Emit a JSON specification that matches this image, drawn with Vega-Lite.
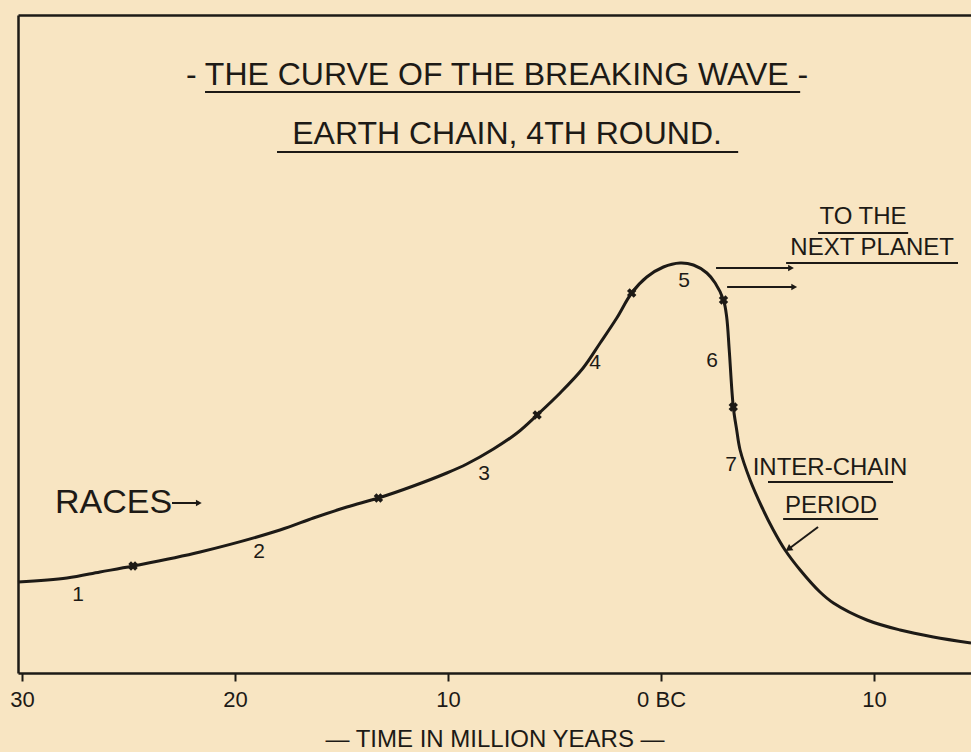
{
  "$schema": "https://vega.github.io/schema/vega-lite/v6.json",
  "width": 953,
  "height": 658,
  "autosize": {"type": "none"},
  "padding": {"left": 18, "top": 15, "right": 0, "bottom": 79},
  "background": "#f8e5c2",
  "config": {
    "view": {"stroke": null},
    "font": "Liberation Sans",
    "axis": {"grid": false, "domainColor": "#1d1a16", "domainWidth": 2.5, "tickColor": "#1d1a16", "labelColor": "#1d1a16", "titleColor": "#1d1a16"}
  },
  "datasets": {
    "curve": [
      {"x": -30.19, "y": 91}, {"x": -27.89, "y": 95}, {"x": -26.34, "y": 101}, {"x": -24.79, "y": 107},
      {"x": -21.64, "y": 121}, {"x": -17.89, "y": 143}, {"x": -16.32, "y": 155}, {"x": -14.75, "y": 166},
      {"x": -13.27, "y": 175}, {"x": -11.63, "y": 187}, {"x": -10.06, "y": 200}, {"x": -9.12, "y": 209},
      {"x": -7.87, "y": 224}, {"x": -6.76, "y": 240}, {"x": -5.82, "y": 258}, {"x": -4.74, "y": 280},
      {"x": -3.66, "y": 305}, {"x": -2.86, "y": 330}, {"x": -2.08, "y": 355}, {"x": -1.38, "y": 380},
      {"x": -0.67, "y": 396}, {"x": 0.11, "y": 406}, {"x": 0.89, "y": 410}, {"x": 1.52, "y": 408},
      {"x": 2.15, "y": 400}, {"x": 2.54, "y": 390}, {"x": 2.93, "y": 373}, {"x": 3.08, "y": 356},
      {"x": 3.2, "y": 323}, {"x": 3.39, "y": 266}, {"x": 3.55, "y": 243}, {"x": 3.71, "y": 223},
      {"x": 4.18, "y": 193}, {"x": 4.73, "y": 166}, {"x": 5.27, "y": 143}, {"x": 5.82, "y": 123},
      {"x": 6.53, "y": 103}, {"x": 7.46, "y": 81}, {"x": 8.09, "y": 70}, {"x": 9.66, "y": 53},
      {"x": 11.22, "y": 43}, {"x": 12.78, "y": 36}, {"x": 14.55, "y": 30}
    ],
    "markers": [
      {"x": -24.79, "y": 107}, {"x": -13.27, "y": 175}, {"x": -5.82, "y": 258},
      {"x": -1.38, "y": 380}, {"x": 2.93, "y": 373}, {"x": 3.39, "y": 266}
    ],
    "races": [
      {"x": -27.37, "y": 78, "label": "1"}, {"x": -18.87, "y": 121, "label": "2"},
      {"x": -8.31, "y": 199, "label": "3"}, {"x": -3.1, "y": 310, "label": "4"},
      {"x": 1.08, "y": 392, "label": "5"}, {"x": 2.39, "y": 312, "label": "6"},
      {"x": 3.29, "y": 208, "label": "7"}
    ],
    "titles": [
      {"x": -7.7, "y": 598, "label": "- THE CURVE OF THE BREAKING WAVE -"},
      {"x": -7.23, "y": 539, "label": "EARTH CHAIN,  4TH ROUND."}
    ],
    "notes": [
      {"x": 9.48, "y": 456, "label": "TO THE"},
      {"x": 9.91, "y": 425, "label": "NEXT PLANET"},
      {"x": 7.93, "y": 205, "label": "INTER-CHAIN"},
      {"x": 7.98, "y": 167, "label": "PERIOD"}
    ],
    "racesLabel": [
      {"x": -28.45, "y": 170, "label": "RACES"}
    ],
    "underlines": [
      {"x": -21.41, "x2": 6.53, "y": 581},
      {"x": -18.03, "x2": 3.62, "y": 521},
      {"x": 7.37, "x2": 11.6, "y": 440},
      {"x": 5.87, "x2": 13.94, "y": 410},
      {"x": 5.02, "x2": 10.89, "y": 191},
      {"x": 5.73, "x2": 10.19, "y": 154}
    ],
    "shafts": [
      {"x": 2.58, "x2": 6.0, "y": 405, "y2": 405},
      {"x": 3.1, "x2": 6.15, "y": 386, "y2": 386},
      {"x": 7.37, "x2": 6.05, "y": 146, "y2": 125},
      {"x": -22.96, "x2": -21.8, "y": 170, "y2": 170}
    ],
    "headsRight": [
      {"x": 6.1, "y": 405}, {"x": 6.25, "y": 386}, {"x": -21.7, "y": 170}
    ],
    "headsDiag": [
      {"x": 5.98, "y": 124}
    ]
  },
  "resolve": {"axis": {"x": "independent", "y": "independent"}},
  "layer": [
    {
      "data": {"name": "curve"},
      "mark": {"type": "line", "interpolate": "catmull-rom", "color": "#1d1a16", "strokeWidth": 3},
      "encoding": {
        "x": {
          "field": "x", "type": "quantitative",
          "scale": {"domain": [-30.19, 14.55], "nice": false, "zero": false},
          "axis": {
            "orient": "bottom", "values": [-30, -20, -10, 0, 10],
            "labelExpr": "datum.value == 0 ? '0 BC' : format(abs(datum.value), 'd')",
            "labelFontSize": 22, "labelPadding": 8, "labelFlush": false, "labelFont": "Liberation Sans",
            "tickSize": 8, "tickWidth": 2,
            "title": "— TIME IN MILLION YEARS —", "titleFontSize": 24, "titleFontWeight": "normal",
            "titleFont": "Liberation Sans", "titlePadding": 17
          }
        },
        "y": {
          "field": "y", "type": "quantitative",
          "scale": {"domain": [0, 658], "nice": false, "zero": false},
          "axis": {"orient": "left", "ticks": false, "labels": false, "title": null, "domain": true}
        }
      }
    },
    {
      "data": {"name": "markers"},
      "mark": {"type": "point", "shape": "cross", "angle": 45, "size": 90, "filled": true, "color": "#1d1a16", "opacity": 1},
      "encoding": {
        "x": {"field": "x", "type": "quantitative", "axis": {"orient": "top", "labels": false, "ticks": false, "title": null, "domain": true}},
        "y": {"field": "y", "type": "quantitative", "axis": null}
      }
    },
    {
      "data": {"name": "races"},
      "mark": {"type": "text", "fontSize": 21, "color": "#1d1a16", "align": "center", "baseline": "middle"},
      "encoding": {
        "x": {"field": "x", "type": "quantitative", "axis": null},
        "y": {"field": "y", "type": "quantitative", "axis": null},
        "text": {"field": "label"}
      }
    },
    {
      "data": {"name": "titles"},
      "mark": {"type": "text", "fontSize": 32, "color": "#1d1a16", "align": "center", "baseline": "middle"},
      "encoding": {
        "x": {"field": "x", "type": "quantitative", "axis": null},
        "y": {"field": "y", "type": "quantitative", "axis": null},
        "text": {"field": "label"}
      }
    },
    {
      "data": {"name": "notes"},
      "mark": {"type": "text", "fontSize": 24, "color": "#1d1a16", "align": "center", "baseline": "middle"},
      "encoding": {
        "x": {"field": "x", "type": "quantitative", "axis": null},
        "y": {"field": "y", "type": "quantitative", "axis": null},
        "text": {"field": "label"}
      }
    },
    {
      "data": {"name": "racesLabel"},
      "mark": {"type": "text", "fontSize": 34, "color": "#1d1a16", "align": "left", "baseline": "middle"},
      "encoding": {
        "x": {"field": "x", "type": "quantitative", "axis": null},
        "y": {"field": "y", "type": "quantitative", "axis": null},
        "text": {"field": "label"}
      }
    },
    {
      "data": {"name": "underlines"},
      "mark": {"type": "rule", "color": "#1d1a16", "strokeWidth": 2.2},
      "encoding": {
        "x": {"field": "x", "type": "quantitative", "axis": null},
        "x2": {"field": "x2"},
        "y": {"field": "y", "type": "quantitative", "axis": null}
      }
    },
    {
      "data": {"name": "shafts"},
      "mark": {"type": "rule", "color": "#1d1a16", "strokeWidth": 2},
      "encoding": {
        "x": {"field": "x", "type": "quantitative", "axis": null},
        "x2": {"field": "x2"},
        "y": {"field": "y", "type": "quantitative", "axis": null},
        "y2": {"field": "y2"}
      }
    },
    {
      "data": {"name": "headsRight"},
      "mark": {"type": "point", "shape": "triangle-right", "size": 45, "filled": true, "color": "#1d1a16", "opacity": 1},
      "encoding": {
        "x": {"field": "x", "type": "quantitative", "axis": null},
        "y": {"field": "y", "type": "quantitative", "axis": null}
      }
    },
    {
      "data": {"name": "headsDiag"},
      "mark": {"type": "point", "shape": "triangle-right", "angle": 146, "size": 60, "filled": true, "color": "#1d1a16", "opacity": 1},
      "encoding": {
        "x": {"field": "x", "type": "quantitative", "axis": null},
        "y": {"field": "y", "type": "quantitative", "axis": null}
      }
    }
  ]
}
